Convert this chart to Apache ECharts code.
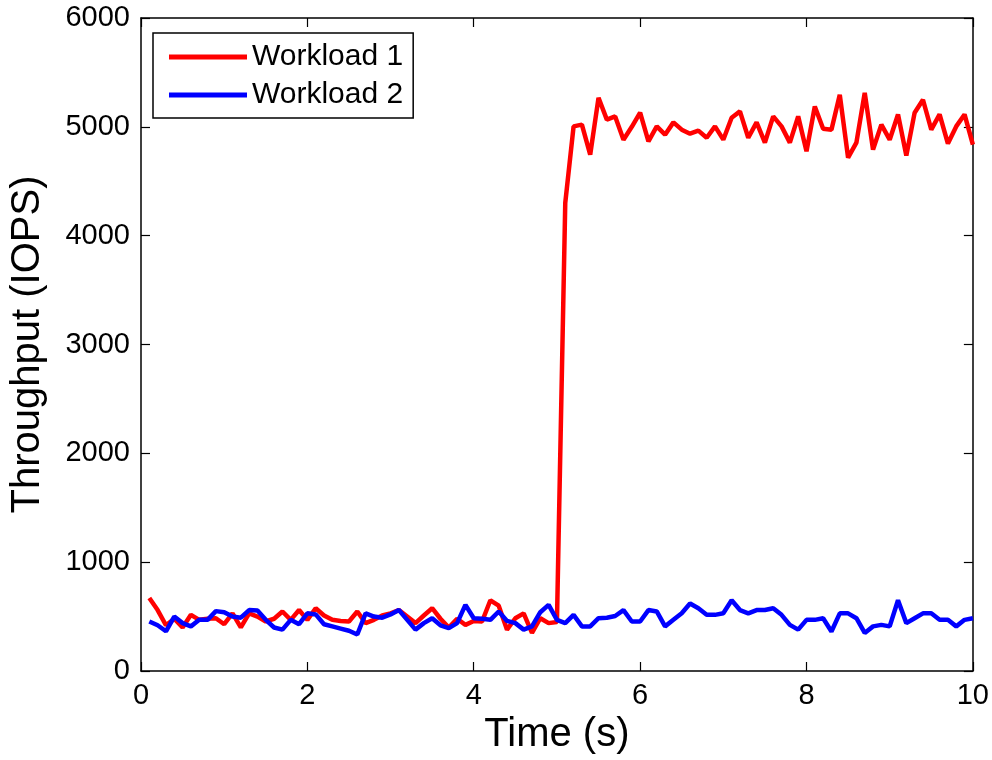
<!DOCTYPE html>
<html>
<head>
<meta charset="utf-8">
<script src="https://cdn.jsdelivr.net/npm/echarts@6/dist/echarts.min.js"></script>
<style>
  html, body { margin: 0; padding: 0; background: #fff; }
  #chart { width: 992px; height: 760px; }
</style>
</head>
<body>
<div id="chart"></div>
<script>
// Sample times in seconds (one sample every 0.1 s)
const time = Array.from({ length: 100 }, (_, i) => (i + 1) / 10);

// Throughput of workload 1 (IOPS)
const workload1 = [
  670, 560, 420, 480, 400, 516, 470, 480, 485, 430,
  530, 400, 530, 500, 455, 480, 547, 470, 560, 470,
  577, 510, 470, 460, 455, 547, 440, 470, 510, 530,
  560, 500, 440, 510, 577, 480, 400, 480, 424, 460,
  455, 650, 600, 380, 485, 530, 350, 485, 440, 450,
  4300, 5004, 5020, 4745, 5267, 5066, 5096, 4882, 5000, 5130,
  4867, 5004, 4928, 5041, 4974, 4937, 4965, 4900, 5004, 4882,
  5084, 5142, 4900, 5041, 4855, 5096, 5004, 4855, 5096, 4775,
  5187, 4983, 4974, 5295, 4717, 4855, 5313, 4791, 5020, 4882,
  5114, 4736, 5130, 5249, 4974, 5114, 4846, 5004, 5114, 4837
];

// Throughput of workload 2 (IOPS)
const workload2 = [
  455, 420, 365, 500, 440, 410, 470, 470, 550, 540,
  500, 490, 560, 555, 470, 400, 380, 470, 430, 530,
  520, 430, 410, 390, 370, 335, 530, 500, 490, 520,
  560, 470, 380, 440, 485, 420, 394, 440, 608, 485,
  480, 470, 547, 460, 440, 380, 410, 540, 608, 470,
  440, 516, 410, 410, 485, 490, 505, 560, 455, 455,
  560, 547, 410, 470, 530, 620, 577, 516, 516, 530,
  650, 560, 530, 560, 560, 577, 516, 424, 380, 470,
  470, 485, 363, 530, 530, 485, 350, 410, 424, 410,
  650, 440, 485, 530, 530, 470, 470, 410, 470, 485
];

const seriesNames = ['Workload 1', 'Workload 2'];
const seriesColors = ['#ff0000', '#0000ff'];

const FONT = '"Liberation Sans", Arial, Helvetica, sans-serif';

const pairs = (vals) => vals.map((v, i) => [time[i], v]);

const axisLine = { show: true, onZero: false, lineStyle: { color: '#000', width: 1.5 } };
const tickIn = { show: true, inside: true, length: 9, lineStyle: { color: '#000', width: 1.2 } };
const plain = (v) => String(v);

const chart = echarts.init(document.getElementById('chart'), null, { renderer: 'canvas' });

chart.setOption({
  animation: false,
  backgroundColor: '#fff',
  grid: { left: 141, top: 18, width: 833, height: 655, containLabel: false },
  legend: {
    data: seriesNames,
    left: 153,
    top: 33,
    orient: 'vertical',
    icon: 'rect',
    itemWidth: 78,
    itemHeight: 5,
    itemGap: 8,
    padding: [9, 10, 8, 16],
    borderColor: '#000',
    borderWidth: 1.5,
    borderRadius: 0,
    backgroundColor: '#fff',
    textStyle: { fontSize: 30, color: '#000', fontFamily: FONT }
  },
  xAxis: [
    {
      type: 'value', min: 0, max: 10, interval: 2,
      name: 'Time (s)', nameLocation: 'middle', nameGap: 44,
      nameTextStyle: { fontSize: 40, color: '#000', fontFamily: FONT },
      axisLine: axisLine, axisTick: tickIn, splitLine: { show: false },
      axisLabel: { fontSize: 29, color: '#000', margin: 10, fontFamily: FONT, formatter: plain }
    },
    {
      type: 'value', min: 0, max: 10, interval: 2, position: 'top',
      axisLine: axisLine, axisTick: tickIn, splitLine: { show: false },
      axisLabel: { show: false }
    }
  ],
  yAxis: [
    {
      type: 'value', min: 0, max: 6000, interval: 1000,
      name: 'Throughput (IOPS)', nameLocation: 'middle', nameGap: 93,
      nameTextStyle: { fontSize: 40, color: '#000', fontFamily: FONT },
      axisLine: axisLine, axisTick: tickIn, splitLine: { show: false },
      axisLabel: { fontSize: 29, color: '#000', margin: 11, fontFamily: FONT, formatter: plain }
    },
    {
      type: 'value', min: 0, max: 6000, interval: 1000, position: 'right',
      axisLine: axisLine, axisTick: tickIn, splitLine: { show: false },
      axisLabel: { show: false }
    }
  ],
  series: [
    {
      name: seriesNames[0], type: 'line', data: pairs(workload1),
      xAxisIndex: 0, yAxisIndex: 0,
      showSymbol: false, symbol: 'none',
      lineStyle: { color: seriesColors[0], width: 4.5 },
      itemStyle: { color: seriesColors[0] },
      z: 2
    },
    {
      name: seriesNames[1], type: 'line', data: pairs(workload2),
      xAxisIndex: 0, yAxisIndex: 0,
      showSymbol: false, symbol: 'none',
      lineStyle: { color: seriesColors[1], width: 4.5 },
      itemStyle: { color: seriesColors[1] },
      z: 3
    }
  ]
});
</script>
</body>
</html>
